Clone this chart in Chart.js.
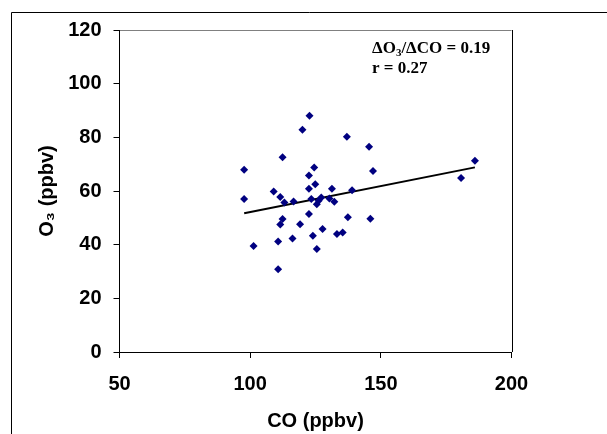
<!DOCTYPE html>
<html>
<head>
<meta charset="utf-8">
<title>O3 vs CO</title>
<script src="https://cdn.jsdelivr.net/npm/chart.js@4/dist/chart.umd.min.js"></script>
<style>
  body { margin: 0; background: #fff; }
  canvas { display: block; }
</style>
</head>
<body>
<canvas id="scatterChart" width="607" height="434"></canvas>
<script>
// CO (ppbv) of each sample
const coValues = [97.7, 97.7, 101.3, 109.0, 110.7, 110.7, 111.5, 111.5, 112.4, 112.4,
  113.1, 116.2, 116.6, 119.1, 120.0, 122.5, 122.5, 122.5, 122.7, 123.4,
  124.0, 124.5, 124.9, 125.5, 125.5, 126.2, 127.2, 127.7, 130.3, 131.3,
  132.2, 133.2, 135.4, 137.0, 137.4, 139.0, 145.5, 146.0, 147.0, 180.7, 186.0];
// O3 (ppbv) of the same samples
const o3Values = [67.9, 57.0, 39.5, 59.8, 30.8, 41.2, 47.5, 57.8, 49.6, 72.6,
  55.7, 42.3, 56.1, 47.6, 82.8, 51.4, 60.8, 65.8, 88.0, 57.0,
  43.3, 68.8, 62.5, 38.4, 55.1, 56.4, 57.6, 45.8, 57.2, 60.8,
  56.0, 44.0, 44.5, 80.2, 50.2, 60.3, 76.5, 49.7, 67.5, 64.8, 71.3];

// regression line end points
const fitCO = [97.7, 186.0];
const fitO3 = [51.7, 68.8];

// axis ranges and steps
const xTicks = { min: 50, max: 200, step: 50 };
const yTicks = { min: 0, max: 120, step: 20 };

const xTitle = 'CO (ppbv)';
const yTitle = 'O\u2083 (ppbv)';
const slopeText = ['\u0394O', '3', '/\u0394CO = 0.19'];
const rText = 'r = 0.27';

const sansFont = '"Liberation Sans", Arial, sans-serif';
const serifFont = '"Liberation Serif", "Times New Roman", serif';

// white page, the chart frame and the plot area border
const framePlugin = {
  id: 'frame',
  beforeDraw(chart) {
    const ctx = chart.ctx;
    const a = chart.chartArea;
    ctx.save();
    ctx.fillStyle = '#fff';
    ctx.fillRect(0, 0, chart.width, chart.height);
    ctx.strokeStyle = '#000';
    ctx.lineWidth = 1;
    ctx.beginPath();
    ctx.moveTo(11.5, chart.height);
    ctx.lineTo(11.5, 12.5);
    ctx.lineTo(chart.width, 12.5);
    ctx.stroke();
    ctx.strokeStyle = '#808080';
    ctx.beginPath();
    ctx.moveTo(a.left, Math.round(a.top) + 0.5);
    ctx.lineTo(a.right, Math.round(a.top) + 0.5);
    ctx.stroke();
    ctx.strokeStyle = '#000';
    ctx.beginPath();
    ctx.moveTo(Math.round(a.right) + 0.5, a.top);
    ctx.lineTo(Math.round(a.right) + 0.5, a.bottom);
    ctx.stroke();
    ctx.restore();
  },
  // slope and correlation text in the top right corner
  afterDraw(chart) {
    const ctx = chart.ctx;
    let x = 372;
    const y = 53;
    ctx.save();
    ctx.fillStyle = '#000';
    ctx.textBaseline = 'alphabetic';
    ctx.font = 'bold 17px ' + serifFont;
    ctx.fillText(slopeText[0], x, y);
    x += ctx.measureText(slopeText[0]).width;
    ctx.font = 'bold 11px ' + serifFont;
    ctx.fillText(slopeText[1], x, y + 3);
    x += ctx.measureText(slopeText[1]).width;
    ctx.font = 'bold 17px ' + serifFont;
    ctx.fillText(slopeText[2], x, y);
    ctx.fillText(rText, 372, y + 20);
    ctx.restore();
  }
};

const points = coValues.map((co, i) => ({ x: co, y: o3Values[i] }));
const fitLine = fitCO.map((co, i) => ({ x: co, y: fitO3[i] }));

const ctx = document.getElementById('scatterChart').getContext('2d');
new Chart(ctx, {
  type: 'scatter',
  data: {
    datasets: [{
      data: points,
      pointStyle: 'rectRot',
      pointRadius: 4,
      backgroundColor: '#000080',
      borderColor: '#000080',
      borderWidth: 0
    }, {
      type: 'line',
      data: fitLine,
      borderColor: '#000',
      borderWidth: 2,
      pointRadius: 0,
      fill: false
    }]
  },
  options: {
    responsive: false,
    animation: false,
    layout: { padding: { top: 30, right: 95.5, left: 0, bottom: 0 } },
    plugins: { legend: { display: false }, tooltip: { enabled: false } },
    scales: {
      x: {
        type: 'linear',
        min: xTicks.min, max: xTicks.max,
        afterFit: (scale) => { scale.height = 82; },
        border: { display: true, color: '#000', width: 1 },
        grid: { drawOnChartArea: false, drawTicks: true, tickLength: 6, color: '#000' },
        ticks: {
          stepSize: xTicks.step, color: '#000', padding: 14,
          font: { family: sansFont, size: 20, weight: 'bold' }
        },
        title: {
          display: true, text: xTitle, color: '#000',
          padding: { top: 0, bottom: 1 },
          font: { family: sansFont, size: 20, weight: 'bold' }
        }
      },
      y: {
        min: yTicks.min, max: yTicks.max,
        afterFit: (scale) => { scale.width = 119.5; },
        border: { display: true, color: '#000', width: 1 },
        grid: { drawOnChartArea: false, drawTicks: true, tickLength: 6, color: '#000' },
        ticks: {
          stepSize: yTicks.step, color: '#000', padding: 12,
          font: { family: sansFont, size: 20, weight: 'bold' }
        },
        title: {
          display: true, text: yTitle, color: '#000',
          padding: { top: 35, bottom: 0 },
          font: { family: sansFont, size: 20, weight: 'bold' }
        }
      }
    }
  },
  plugins: [framePlugin]
});
</script>
</body>
</html>
